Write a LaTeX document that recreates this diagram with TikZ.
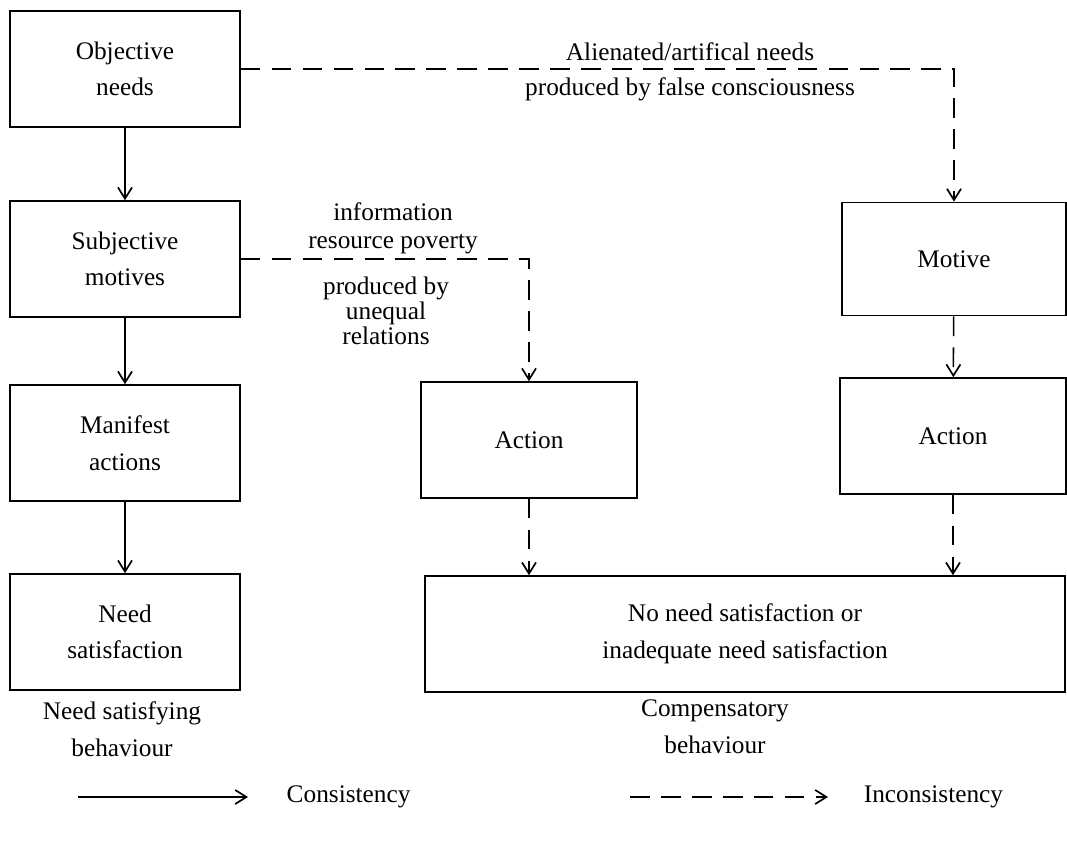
\documentclass[tikz,border=0pt]{standalone}
\usepackage{fontspec}
\setmainfont{Liberation Serif}
\usetikzlibrary{arrows.meta,positioning}
\tikzset{
    box/.style={
        rectangle,
        draw=black,
        line width=1.1pt,
        minimum width=5.75cm,
        minimum height=2.9cm,
        align=center,
        inner sep=0pt,
        font=\fontsize{18}{26}\selectfont
    },
    actionbox/.style={box, minimum width=5.4cm},
    consistent/.style={
        -{Straight Barb[length=8pt,width=10pt,line width=1.2pt]},
        line width=1.1pt
    },
    inconsistent/.style={
        consistent,
        dash pattern=on 14pt off 8pt
    },
    lbl/.style={
        align=center,
        font=\fontsize{18}{26}\selectfont
    }
}

\begin{document}
\begin{tikzpicture}[x=0.025cm, y=-0.025cm]
    \useasboundingbox (0,0) rectangle (1067,849);

    % Left column
    \node[box] (objective) at (125,69) {Objective\\needs};
    \node[box] (subjective) at (125,259) {Subjective\\motives};
    \node[box] (manifest) at (125,443) {Manifest\\actions};
    \node[box] (needsat) at (125,632) {Need\\satisfaction};

    \draw[consistent] (objective) -- (subjective);
    \draw[consistent] (subjective) -- (manifest);
    \draw[consistent] (manifest) -- (needsat);

    \node[lbl] (satlabel) at (122,729) {Need satisfying\\behaviour};

    % Middle and right columns
    \node[box, minimum width=5.6cm, minimum height=2.83cm] (motive) at (954,259) {Motive};
    \node[actionbox] (action1) at (529,440) {Action};
    \node[actionbox, minimum width=5.65cm] (action2) at (953,436) {Action};
    \node[box, minimum width=16cm] (nosat) at (745,634) {No need satisfaction or\\inadequate need satisfaction};

    \node[lbl] (complabel) at (715,727) {Compensatory\\behaviour};

    % Inconsistent paths
    \draw[inconsistent] (objective.east) -| (motive.north);
    \draw[inconsistent] (subjective.east) -| (action1.north);
    \draw[inconsistent] (motive) -- (action2);
    \draw[inconsistent] (action1.south) -- (action1.south |- nosat.north);
    \draw[inconsistent] (action2.south) -- (action2.south |- nosat.north);

    \node[lbl, font=\fontsize{18}{25}\selectfont] (alienated) at (690,72) {Alienated/artifical needs\\produced by false consciousness};
    \node[lbl, font=\fontsize{18}{20}\selectfont] (poverty) at (393,228) {information\\resource poverty};
    \node[lbl, font=\fontsize{18}{18}\selectfont] (unequal) at (386,311) {produced by\\unequal\\relations};

    % Legend
    \coordinate (legA) at (78,797);
    \coordinate (legB) at (248,797);
    \coordinate (legC) at (630,797);
    \coordinate (legD) at (828,797);
    \draw[consistent] (legA) -- (legB);
    \draw[inconsistent] (legC) -- (legD);
    \node[lbl, right=24pt of legB] (consistency) {Consistency};
    \node[lbl, right=22pt of legD] (inconsistency) {Inconsistency};

\end{tikzpicture}
\end{document}
